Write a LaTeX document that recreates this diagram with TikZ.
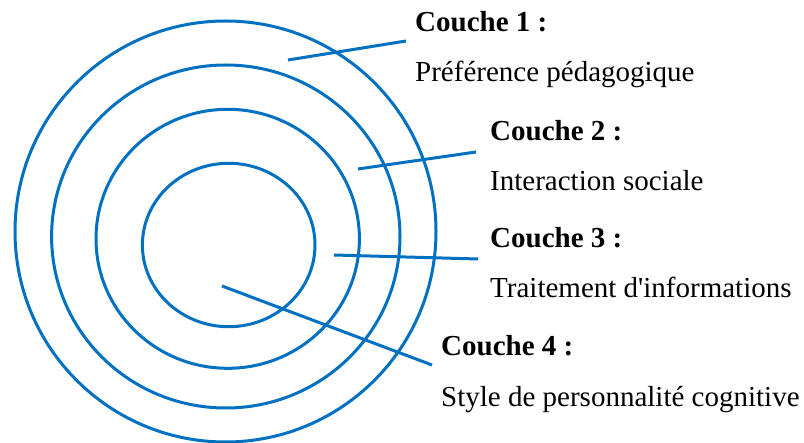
\documentclass[tikz,border=0pt]{standalone}
\usepackage{fontspec}
\setmainfont{Liberation Serif}
\definecolor{ringblue}{HTML}{0070C0}
\begin{document}
\begin{tikzpicture}[x=1pt,y=-1pt,
  ring/.style={draw=ringblue,line width=3pt},
  pointer/.style={draw=ringblue,line width=3pt},
  title/.style={anchor=base west,inner sep=0pt,font=\fontsize{29}{34}\selectfont\bfseries},
  desc/.style={anchor=base west,inner sep=0pt,font=\fontsize{29}{34}\selectfont}]
\useasboundingbox (0,0) rectangle (804,443);

% four layers, outermost first
\draw[ring] (225.5,231.5) ellipse [x radius=210.5, y radius=210.5];
\draw[ring] (225.8,236.5) ellipse [x radius=174.2, y radius=171.5];
\draw[ring] (227.7,238.8) ellipse [x radius=131.7, y radius=129.5];
\draw[ring] (228.7,245.0) ellipse [x radius=86.3, y radius=81.7];

% labels
\node[title] (t1) at (415,32) {Couche 1 :};
\node[desc]  (d1) at (415,82) {Préférence pédagogique};
\node[title] (t2) at (490,141) {Couche 2 :};
\node[desc]  (d2) at (490,191) {Interaction sociale};
\node[title] (t3) at (490,248) {Couche 3 :};
\node[desc]  (d3) at (490,298) {Traitement d\textquotesingle informations};
\node[title] (t4) at (441,356) {Couche 4 :};
\node[desc]  (d4) at (441,407) {Style de personnalité cognitive};

% pointer lines from each layer towards its label
\coordinate (a1) at (288,60);  \coordinate (b1) at (406,41);
\coordinate (a2) at (358,169); \coordinate (b2) at (476,152);
\coordinate (a3) at (334,255); \coordinate (b3) at (478,259);
\coordinate (a4) at (222,286); \coordinate (b4) at (432,365);
\draw[pointer] (a1) -- (b1);
\draw[pointer] (a2) -- (b2);
\draw[pointer] (a3) -- (b3);
\draw[pointer] (a4) -- (b4);
\end{tikzpicture}
\end{document}
